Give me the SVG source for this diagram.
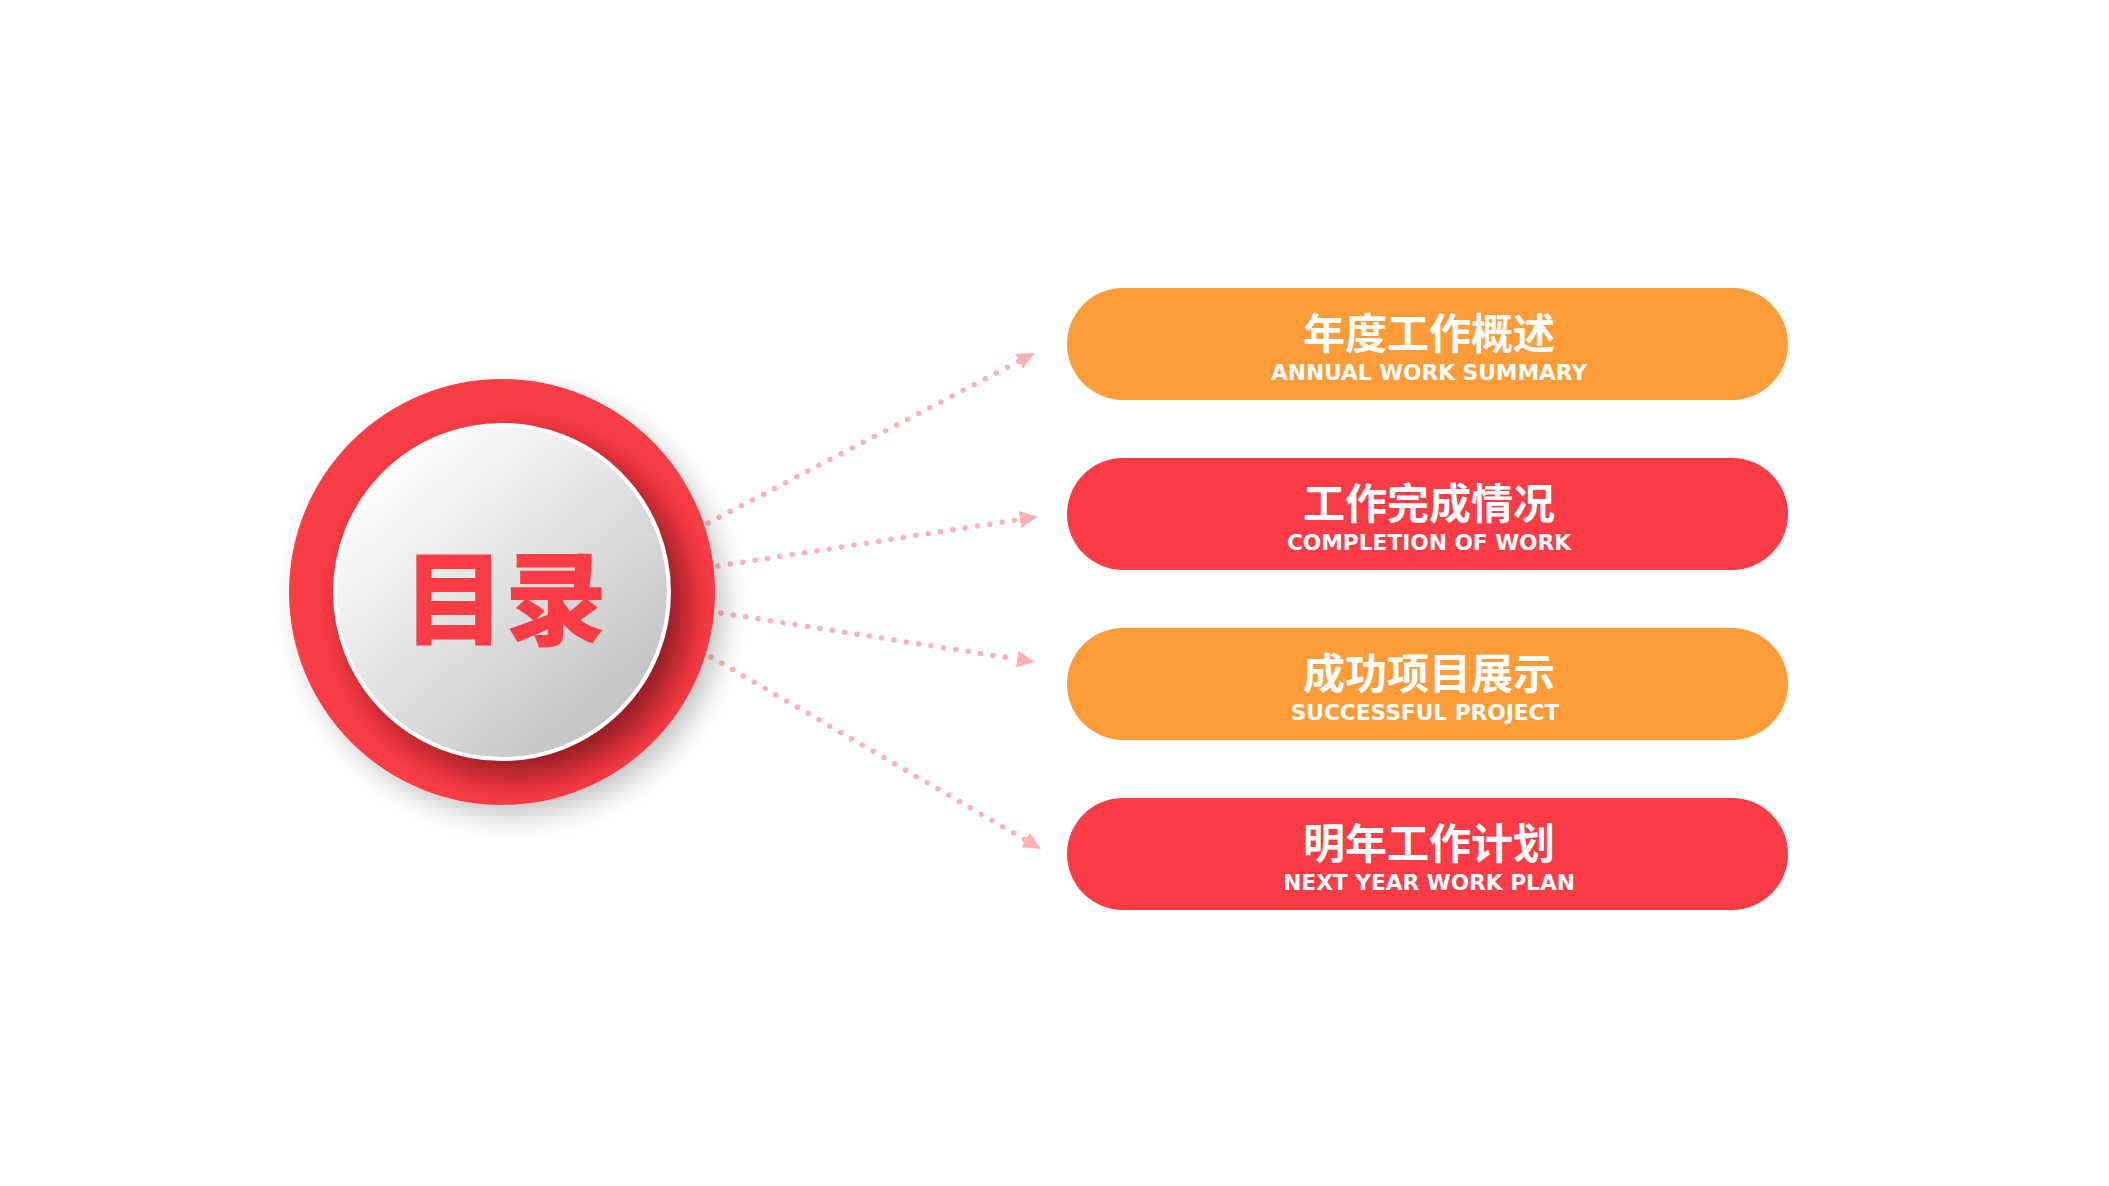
<svg xmlns="http://www.w3.org/2000/svg" width="2109" height="1186" viewBox="0 0 2109 1186">
  <defs>
    <style>
      .conn { fill: none; stroke: #FFB1B5; stroke-width: 5.5; stroke-linecap: round; stroke-dasharray: 0 12.5; marker-end: url(#ah); }
      .pill-o { fill: #FE9C3A; }
      .pill-r { fill: #F93C45; }
      .zh { font-family: "Noto Sans CJK SC", "Noto Sans", sans-serif; font-weight: 700; font-size: 42px; fill: #FFFFFF; text-anchor: middle; }
      .en { font-family: "DejaVu Sans", "Liberation Sans", sans-serif; font-weight: 700; font-size: 21.7px; fill: #FFFFFF; text-anchor: middle; }
      .title { font-family: "Noto Sans CJK SC", sans-serif; font-weight: 900; font-size: 102px; fill: #F93C45; text-anchor: middle; }
    </style>
    <marker id="ah" markerUnits="userSpaceOnUse" viewBox="0 0 18 17" markerWidth="18" markerHeight="17" refX="0" refY="8.5" orient="auto">
      <path d="M0,0 L18,8.5 L0,17 Z" fill="#FFB1B5"/>
    </marker>
    <filter id="outerShadow" x="-30%" y="-30%" width="160%" height="160%">
      <feDropShadow dx="10" dy="12" stdDeviation="13" flood-color="#000000" flood-opacity="0.22"/>
    </filter>
    <filter id="blurShadow" x="-30%" y="-30%" width="160%" height="160%">
      <feGaussianBlur stdDeviation="15"/>
    </filter>
    <clipPath id="ringClip">
      <circle cx="502" cy="592" r="213"/>
    </clipPath>
    <linearGradient id="innerGrad" x1="0.15" y1="0.1" x2="0.85" y2="0.9">
      <stop offset="0" stop-color="#FFFFFF"/>
      <stop offset="1" stop-color="#C2C2C2"/>
    </linearGradient>
  </defs>

  <rect width="2109" height="1186" fill="#FFFFFF"/>

  <g id="connectors">
    <line class="conn" x1="708" y1="523" x2="1019" y2="361.3"/>
    <line class="conn" x1="718" y1="566" x2="1020" y2="519.5"/>
    <line class="conn" x1="721" y1="613" x2="1017.2" y2="659.2"/>
    <line class="conn" x1="711" y1="657" x2="1025.4" y2="839.9"/>
  </g>

  <g id="center-node">
    <circle cx="502" cy="592" r="213" fill="#F93C45" filter="url(#outerShadow)"/>
    <g clip-path="url(#ringClip)">
      <circle cx="517" cy="607" r="170" fill="#6A0A12" opacity="0.7" filter="url(#blurShadow)"/>
    </g>
    <circle cx="502" cy="592" r="167" fill="url(#innerGrad)" stroke="#FFFFFF" stroke-width="4"/>
    <text class="title" x="505" y="637">目录</text>
  </g>

  <g id="item-1">
    <rect class="pill-o" x="1067" y="288" width="721" height="112" rx="56" ry="56"/>
    <text class="zh" x="1429" y="349">年度工作概述</text>
    <text class="en" x="1429" y="380">ANNUAL WORK SUMMARY</text>
  </g>

  <g id="item-2">
    <rect class="pill-r" x="1067" y="458" width="721" height="112" rx="56" ry="56"/>
    <text class="zh" x="1429" y="519">工作完成情况</text>
    <text class="en" x="1429" y="550">COMPLETION OF WORK</text>
  </g>

  <g id="item-3">
    <rect class="pill-o" x="1067" y="628" width="721" height="112" rx="56" ry="56"/>
    <text class="zh" x="1429" y="689">成功项目展示</text>
    <text class="en" x="1425" y="720">SUCCESSFUL PROJECT</text>
  </g>

  <g id="item-4">
    <rect class="pill-r" x="1067" y="798" width="721" height="112" rx="56" ry="56"/>
    <text class="zh" x="1429" y="859">明年工作计划</text>
    <text class="en" x="1429" y="890">NEXT YEAR WORK PLAN</text>
  </g>
</svg>
